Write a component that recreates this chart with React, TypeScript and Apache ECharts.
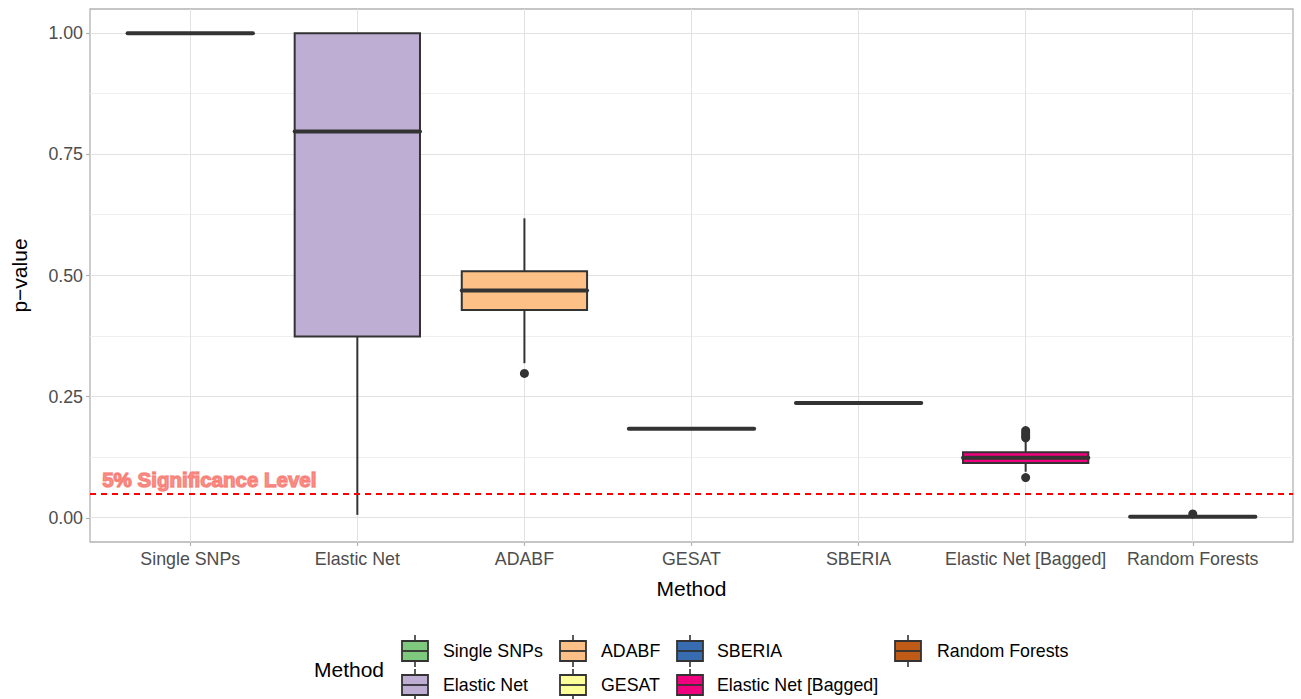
import React, { useEffect, useRef } from "react";
import * as echarts from "echarts";

// Methods compared, in axis order, with their box fill colours
const methods = [
  "Single SNPs",
  "Elastic Net",
  "ADABF",
  "GESAT",
  "SBERIA",
  "Elastic Net [Bagged]",
  "Random Forests",
];
const fills = ["#7FC97F", "#BEAED4", "#FDC086", "#FFFF99", "#386CB0", "#F0027F", "#BF5B17"];

// Box statistics per method: [lower whisker, Q1, median, Q3, upper whisker]
const singleSnps = [1, 1, 1, 1, 1];
const elasticNet = [0.006, 0.374, 0.797, 1, 1];
const adabf = [0.319, 0.429, 0.469, 0.509, 0.618];
const gesat = [0.1835, 0.1835, 0.1835, 0.1835, 0.1835];
const sberia = [0.237, 0.237, 0.237, 0.237, 0.237];
const elasticNetBagged = [0.095, 0.113, 0.124, 0.135, 0.159];
const randomForests = [0.002, 0.002, 0.002, 0.002, 0.002];
const boxStats = [singleSnps, elasticNet, adabf, gesat, sberia, elasticNetBagged, randomForests];

// Outlying p-values: [method index, p-value]
const outliers = [
  [2, 0.298],
  [5, 0.165],
  [5, 0.17],
  [5, 0.175],
  [5, 0.18],
  [5, 0.083],
  [6, 0.008],
];

const yTicks = [0, 0.25, 0.5, 0.75, 1];
const yMinor = [0.125, 0.375, 0.625, 0.875];
const X_MIN = -0.6;
const X_MAX = 6.6;
const Y_MIN = -0.05;
const Y_MAX = 1.05;
const significance = 0.05;
const sigLabel = "5% Significance Level";
const sigLabelAt = [0.114, 0.078];

// Legend arrangement (column-major, two rows)
const legendCols = [
  [0, 1],
  [2, 3],
  [4, 5],
  [6],
];

const INK = "#333333";
const FONT = "Liberation Sans, Arial, sans-serif";
const TICK_SIZE = 17.8;
const TITLE_SIZE = 21;

// Panel grid lines: [orientation (0 = horizontal, 1 = vertical), value, major]
const gridLines = [
  ...yMinor.map((v) => [0, v, 0]),
  ...yTicks.map((v) => [0, v, 1]),
  ...methods.map((_, i) => [1, i, 1]),
];

// keep 1px lines on whole pixels so they stay crisp
const snap = (p: number) => Math.round(p - 0.5) + 0.5;

export default function App() {
  const ref = useRef<HTMLDivElement>(null);

  useEffect(() => {
    if (!ref.current) return;
    const chart = echarts.init(ref.current, null, { renderer: "svg" });

    const keyCx = [415, 573, 690, 908];
    const labelX = [443, 601, 717, 937];
    const rowY = [651, 685];
    const legendGraphics: any[] = [
      {
        type: "text",
        x: 314,
        y: 669,
        style: {
          text: "Method",
          fontSize: TITLE_SIZE,
          fontFamily: FONT,
          fill: "#000",
          verticalAlign: "middle",
          align: "left",
        },
      },
    ];
    legendCols.forEach((col, ci) => {
      col.forEach((mi, ri) => {
        const cx = keyCx[ci];
        const cy = rowY[ri];
        legendGraphics.push({
          type: "group",
          children: [
            {
              type: "line",
              shape: { x1: cx, y1: cy - 16, x2: cx, y2: cy + 16 },
              style: { stroke: INK, lineWidth: 1.6 },
            },
            {
              type: "rect",
              shape: { x: cx - 13, y: cy - 10, width: 26, height: 20 },
              style: { fill: fills[mi], stroke: INK, lineWidth: 1.8 },
            },
            {
              type: "line",
              shape: { x1: cx - 13, y1: cy, x2: cx + 13, y2: cy },
              style: { stroke: INK, lineWidth: 1.8 },
            },
          ],
        });
        legendGraphics.push({
          type: "text",
          x: labelX[ci],
          y: cy,
          style: {
            text: methods[mi],
            fontSize: TICK_SIZE,
            fontFamily: FONT,
            fill: "#000",
            verticalAlign: "middle",
            align: "left",
          },
        });
      });
    });

    chart.setOption({
      animation: false,
      backgroundColor: "#ffffff",
      textStyle: { fontFamily: FONT },
      grid: {
        left: 90,
        right: 8,
        top: 9,
        bottom: 157,
        show: true,
        borderColor: "#B3B3B3",
        borderWidth: 1.3,
        backgroundColor: "transparent",
      },
      xAxis: {
        type: "value",
        min: X_MIN,
        max: X_MAX,
        name: "Method",
        nameLocation: "middle",
        nameGap: 36,
        nameTextStyle: { fontSize: TITLE_SIZE, color: "#000", fontFamily: FONT },
        axisLine: { show: false, onZero: false },
        splitLine: { show: false },
        axisTick: {
          show: true,
          length: 4,
          customValues: methods.map((_, i) => i),
          lineStyle: { color: "#B3B3B3", width: 1.2 },
        },
        axisLabel: {
          customValues: methods.map((_, i) => i),
          formatter: (v: number) => methods[Math.round(v)] ?? "",
          fontSize: TICK_SIZE,
          color: "#4D4D4D",
          margin: 8,
          fontFamily: FONT,
        },
      },
      yAxis: {
        type: "value",
        min: Y_MIN,
        max: Y_MAX,
        name: "p\u2212value",
        nameLocation: "middle",
        nameGap: 60,
        nameTextStyle: { fontSize: TITLE_SIZE, color: "#000", fontFamily: FONT },
        axisLine: { show: false, onZero: false },
        splitLine: { show: false },
        axisTick: {
          show: true,
          length: 4,
          customValues: yTicks,
          lineStyle: { color: "#B3B3B3", width: 1.2 },
        },
        axisLabel: {
          customValues: yTicks,
          formatter: (v: number) => v.toFixed(2),
          fontSize: TICK_SIZE,
          color: "#4D4D4D",
          margin: 7,
          fontFamily: FONT,
        },
      },
      graphic: legendGraphics,
      series: [
        {
          // panel grid lines, beneath the boxes
          type: "custom",
          z: 1,
          silent: true,
          data: gridLines,
          renderItem: (params: any, api: any) => {
            const vertical = api.value(0) === 1;
            const v = api.value(1);
            const major = api.value(2) === 1;
            const a = vertical ? api.coord([v, Y_MIN]) : api.coord([X_MIN, v]);
            const b = vertical ? api.coord([v, Y_MAX]) : api.coord([X_MAX, v]);
            const shape = vertical
              ? { x1: snap(a[0]), y1: a[1], x2: snap(b[0]), y2: b[1] }
              : { x1: a[0], y1: snap(a[1]), x2: b[0], y2: snap(b[1]) };
            return {
              type: "line",
              shape,
              style: { stroke: major ? "#E2E2E2" : "#EFEFEF", lineWidth: 1 },
            };
          },
        },
        {
          type: "custom",
          z: 3,
          data: boxStats.map((s, i) => [i, ...s]),
          encode: { x: 0, y: [1, 2, 3, 4, 5] },
          renderItem: (params: any, api: any) => {
            const idx = api.value(0);
            const lo = api.value(1);
            const q1 = api.value(2);
            const med = api.value(3);
            const q3 = api.value(4);
            const hi = api.value(5);
            const half = api.size([0.75, 0])[0] / 2;
            const pLo = api.coord([idx, lo]);
            const pQ1 = api.coord([idx, q1]);
            const pMed = api.coord([idx, med]);
            const pQ3 = api.coord([idx, q3]);
            const pHi = api.coord([idx, hi]);
            const x = pMed[0];
            return {
              type: "group",
              children: [
                {
                  type: "line",
                  shape: { x1: x, y1: pQ3[1], x2: x, y2: pHi[1] },
                  style: { stroke: INK, lineWidth: 2 },
                },
                {
                  type: "line",
                  shape: { x1: x, y1: pQ1[1], x2: x, y2: pLo[1] },
                  style: { stroke: INK, lineWidth: 2 },
                },
                {
                  type: "rect",
                  shape: { x: x - half, y: pQ3[1], width: half * 2, height: pQ1[1] - pQ3[1] },
                  style: { fill: fills[idx], stroke: INK, lineWidth: 2 },
                },
                {
                  type: "line",
                  shape: { x1: x - half, y1: pMed[1], x2: x + half, y2: pMed[1] },
                  style: { stroke: INK, lineWidth: 4, lineCap: "round" },
                },
              ],
            };
          },
        },
        {
          type: "scatter",
          z: 4,
          data: outliers,
          symbol: "circle",
          symbolSize: 9,
          itemStyle: { color: INK, opacity: 1 },
          silent: true,
        },
        {
          // significance threshold and its label
          type: "scatter",
          z: 5,
          data: [sigLabelAt],
          symbolSize: 0,
          silent: true,
          label: {
            show: true,
            position: "inside",
            formatter: sigLabel,
            fontSize: 20.5,
            fontWeight: "bold",
            color: "#F8766D",
            textBorderColor: "#F8766D",
            textBorderWidth: 1.4,
            fontFamily: FONT,
          },
          markLine: {
            z: 6,
            silent: true,
            symbol: "none",
            label: { show: false },
            data: [{ yAxis: significance }],
            lineStyle: { color: "#FF0000", width: 2, type: [6, 5] },
          },
        },
      ],
    });

    return () => chart.dispose();
  }, []);

  return (
    <div
      ref={ref}
      style={{ position: "absolute", left: 0, top: 0, width: 1301, height: 699 }}
    />
  );
}
